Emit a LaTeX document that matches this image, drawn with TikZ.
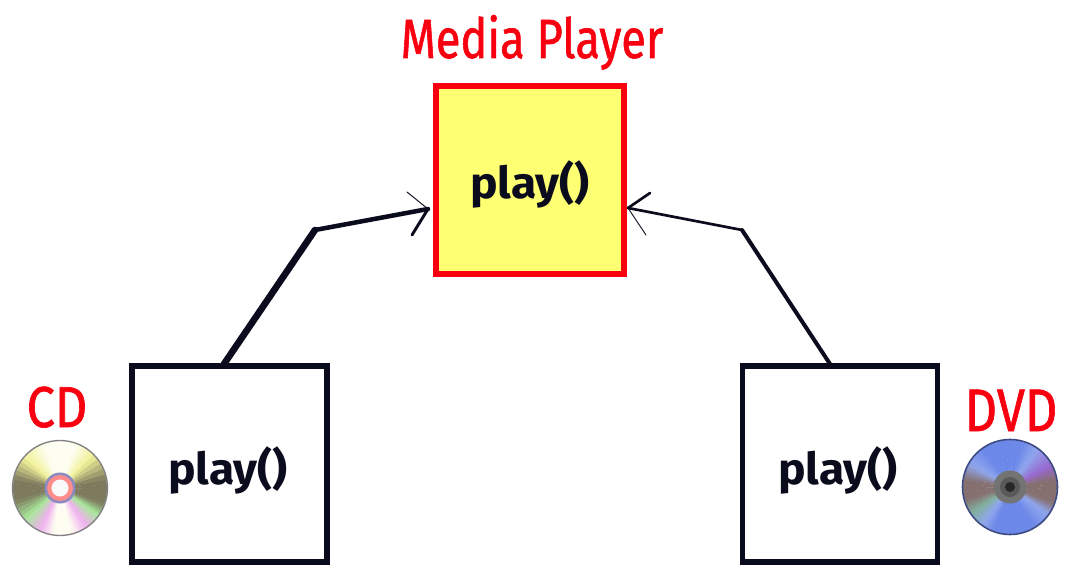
\documentclass[tikz,border=0pt]{standalone}
\usepackage{fontspec}
\setmainfont{Fira Sans}
\usetikzlibrary{calc}
\definecolor{inkc}{HTML}{0B0B1E}
\definecolor{redc}{HTML}{F8000F}
\definecolor{yelc}{HTML}{FFFF73}
\definecolor{cgray}{HTML}{7E7A5E}
\definecolor{cyel}{HTML}{F2F29A}
\definecolor{cwhite}{HTML}{FDFDF2}
\definecolor{cgreen}{HTML}{A8E89A}
\definecolor{cpink}{HTML}{F0B0F0}
\definecolor{dgray}{HTML}{85706F}
\definecolor{dblue}{HTML}{6C88E8}
\definecolor{dlight}{HTML}{8FA6EE}
\definecolor{dpurple}{HTML}{9868D0}
\definecolor{dmix}{HTML}{80B0A0}
\tikzset{
  classbox/.style={draw=inkc,line width=3.9pt,fill=white,minimum width=195pt*0.75,minimum height=196pt*0.75,inner sep=0pt},
  mediabox/.style={classbox,draw=redc,fill=yelc,line width=3.9pt,minimum width=188pt*0.75,minimum height=188pt*0.75},
  methodtext/.style={text=inkc,font=\bfseries\fontsize{33}{33}\selectfont,inner sep=0pt},
  caption/.style={text=redc,font=\addfontfeature{FakeBold=1.2}\fontsize{36}{36}\selectfont,inner sep=0pt},
  shaft/.style={draw=inkc,line join=round,line cap=round},
  barb/.style={draw=inkc,line cap=round},
  discedge/.style={line width=1pt}
}
\newcommand{\discfan}[4]{% cx,cy,r,list
  \foreach \aa/\ab/\ca/\cb in {#4}{
    \foreach \i in {0,...,4}{
      \pgfmathsetmacro{\sa}{\aa+(\ab-\aa)*\i/5}
      \pgfmathsetmacro{\sb}{\aa+(\ab-\aa)*(\i+1)/5+0.6}
      \pgfmathtruncatemacro{\pc}{20*\i+10}
      \fill[\cb!\pc!\ca] (#1,#2) -- ++(\sa:#3) arc[start angle=\sa,end angle=\sb,radius=#3] -- cycle;
    }
  }
}
\begin{document}
\begin{tikzpicture}[x=0.75pt,y=0.75pt]
\useasboundingbox (0,-581) rectangle (1075,0);
\fill[white] (0,-581) rectangle (1075,0);

% boxes
\node[mediabox] (media) at (530,-180) {};
\node[classbox] (cdbox) at (229.5,-464) {};
\node[classbox] (dvdbox) at (840,-464) {};
\node[methodtext] (mplay) at (530,-184) {\scalebox{1.05}[1.0]{play()}};
\node[methodtext] (cplay) at (228,-470) {\scalebox{1.05}[1.0]{play()}};
\node[methodtext] (dplay) at (838,-470) {\scalebox{1.05}[1.0]{play()}};

% captions
\node[caption,anchor=base] (mediacap) at (532,-58) {\scalebox{0.94}[1.15]{Media Player}};
\node[caption,anchor=base] (cdcap) at (57,-427) {\scalebox{1.05}[1.2]{CD}};
\node[caption,anchor=base] (dvdcap) at (1011,-431) {\scalebox{1.05}[1.25]{DVD}};

% connectors
\coordinate (cdstart) at (224,-364);
\coordinate (cdbend) at (315,-230);
\coordinate (cdtip) at (428,-209);
\coordinate (cdbarbA) at (407,-192);
\coordinate (cdbarbB) at (412,-235);
\coordinate (dvdstart) at (830,-364);
\coordinate (dvdbend) at (742,-230);
\coordinate (dvdtip) at (628,-208);
\coordinate (dvdbarbA) at (650,-193);
\coordinate (dvdbarbB) at (646,-235);
\draw[shaft,line width=5pt] (cdstart) -- (cdbend);
\draw[shaft,line width=3.4pt] (cdbend) -- (cdtip);
\draw[barb,line width=0.7pt] (cdtip) -- (cdbarbA);
\draw[barb,line width=2.2pt] (cdtip) -- (cdbarbB);
\draw[shaft,line width=3pt] (dvdstart) -- (dvdbend);
\draw[shaft,line width=2pt] (dvdbend) -- (dvdtip);
\draw[barb,line width=2pt] (dvdtip) -- (dvdbarbA);
\draw[barb,line width=0.7pt] (dvdtip) -- (dvdbarbB);

% CD disc
\discfan{60}{-488}{47}{-20/10/cgray/cgray,10/45/cgray/cyel,45/70/cyel/cwhite,70/110/cwhite/cwhite,110/140/cwhite/cyel,140/170/cyel/cgray,170/195/cgray/cgray,195/222/cgray/cgreen,222/245/cgreen/cpink,245/262/cpink/cwhite,262/285/cwhite/cwhite,285/305/cwhite/cpink,305/325/cpink/cgreen,325/340/cgreen/cgray}
\draw[draw=gray,discedge] (60,-488) circle[radius=47.5];
\fill[gray!70!blue!70!white] (60,-488) circle[radius=15.5];
\fill[red!45!white] (60,-488) circle[radius=13];
\fill[white!95!gray] (60,-488) circle[radius=8.5];

% DVD disc
\discfan{1010}{-487}{47}{-20/8/dgray/dgray,8/28/dgray/dpurple,28/55/dpurple/dlight,55/75/dlight/dblue,75/125/dblue/dblue,125/150/dblue/dlight,150/172/dlight/dgray,172/195/dgray/dgray,195/215/dgray/dmix,215/235/dmix/dlight,235/250/dlight/dblue,250/300/dblue/dblue,300/325/dblue/dlight,325/340/dlight/dgray}
\draw[draw=inkc!50!dblue,line width=1.2pt] (1010,-487) circle[radius=47.5];
\fill[gray!90!black] (1010,-487) circle[radius=16.5];
\fill[black!65] (1010,-487) circle[radius=10];
\fill[black!85] (1010,-487) circle[radius=5];
\end{tikzpicture}
\end{document}
